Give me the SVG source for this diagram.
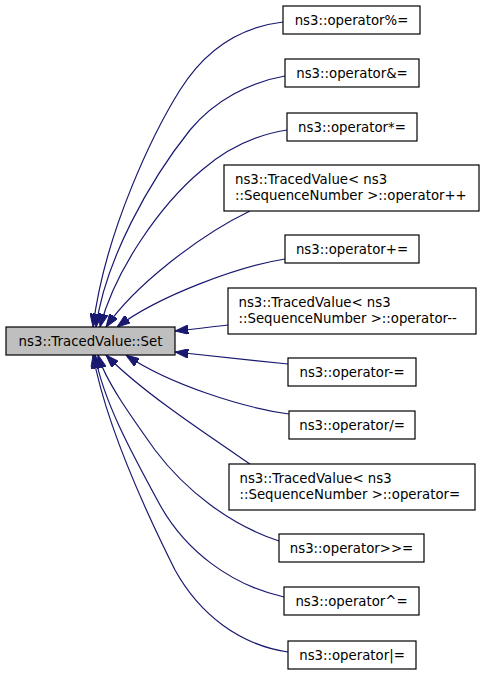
<svg xmlns="http://www.w3.org/2000/svg" width="485" height="675" viewBox="0 0 485 675">
<style>
.n rect{fill:#ffffff;stroke:#000000;stroke-width:1.2}
.m rect{fill:#bfbfbf;stroke:#000000;stroke-width:1.2}
text{font-family:"DejaVu Sans","Liberation Sans",sans-serif;font-size:13.3px;fill:#000000}
.c{text-anchor:middle}
.e path{fill:none;stroke:#191970;stroke-width:1.2}
</style>
<defs>
<marker id="ah" viewBox="0 0 13.3 9.4" refX="13.3" refY="4.7" markerWidth="13.3" markerHeight="9.4" orient="auto" markerUnits="userSpaceOnUse">
<path d="M0,0 L13.3,4.7 L0,9.4 z" fill="#191970" stroke="#191970" stroke-width="1"/>
</marker>
</defs>
<rect width="485" height="675" fill="#ffffff"/>
<g class="e" id="edges" marker-end="url(#ah)">
<path d="M283,22 C240,27 205,50 180,90 C155,130 105,230 93,327" marker-end="url(#ah)"/>
<path d="M285,76 C250,82 215,100 190,130 C150,180 105,260 96,327" marker-end="url(#ah)"/>
<path d="M287,130 C255,135 225,150 202,170 C160,205 115,270 100,327" marker-end="url(#ah)"/>
<path d="M250,211 C200,235 135,285 106,327" marker-end="url(#ah)"/>
<path d="M285,259 C240,266 160,295 117,327" marker-end="url(#ah)"/>
<path d="M228,325 C210,327 195,329 175,331" marker-end="url(#ah)"/>
<path d="M288,364 C250,360 210,356 175,352" marker-end="url(#ah)"/>
<path d="M289,414 C245,408 170,385 126,355" marker-end="url(#ah)"/>
<path d="M250,464 C200,430 140,390 106,355" marker-end="url(#ah)"/>
<path d="M279,541 C230,525 185,490 155,450 C130,415 105,380 98,355" marker-end="url(#ah)"/>
<path d="M284,597 C230,585 185,550 160,505 C130,450 103,400 95,355" marker-end="url(#ah)"/>
<path d="M288,652 C240,645 200,615 175,570 C140,500 105,420 93,355" marker-end="url(#ah)"/>
</g>
<g class="m" id="node_set"><rect x="6" y="327" width="169" height="28"/><text class="c" x="90.5" y="345.5">ns3::TracedValue::Set</text></g>
<g class="n" id="node_mod"><rect x="283" y="6" width="137" height="28"/><text class="c" x="351.5" y="24.5">ns3::operator%=</text></g>
<g class="n" id="node_and"><rect x="285" y="59" width="134" height="28"/><text class="c" x="352" y="77.5">ns3::operator&amp;=</text></g>
<g class="n" id="node_mul"><rect x="287" y="113" width="130" height="28"/><text class="c" x="352" y="131.5">ns3::operator*=</text></g>
<g class="n" id="node_inc"><rect x="224" y="165" width="255" height="46"/><text x="235" y="183.5">ns3::TracedValue&lt; ns3</text><text x="235" y="199.5">::SequenceNumber &gt;::operator++</text></g>
<g class="n" id="node_add"><rect x="285" y="235" width="134" height="28"/><text class="c" x="352" y="253.5">ns3::operator+=</text></g>
<g class="n" id="node_dec"><rect x="228" y="288" width="248" height="46"/><text x="238.5" y="306.5">ns3::TracedValue&lt; ns3</text><text x="238.5" y="322.5">::SequenceNumber &gt;::operator--</text></g>
<g class="n" id="node_sub"><rect x="288" y="358" width="128" height="28"/><text class="c" x="352" y="376.5">ns3::operator-=</text></g>
<g class="n" id="node_div"><rect x="289" y="411" width="126" height="28"/><text class="c" x="352" y="429.5">ns3::operator/=</text></g>
<g class="n" id="node_assign"><rect x="229" y="464" width="246" height="46"/><text x="239.5" y="482.5">ns3::TracedValue&lt; ns3</text><text x="239.5" y="498.5">::SequenceNumber &gt;::operator=</text></g>
<g class="n" id="node_shr"><rect x="279" y="534" width="145" height="28"/><text class="c" x="351.5" y="552.5">ns3::operator&gt;&gt;=</text></g>
<g class="n" id="node_xor"><rect x="284" y="587" width="135" height="28"/><text class="c" x="351.5" y="605.5">ns3::operator^=</text></g>
<g class="n" id="node_or"><rect x="288" y="641" width="128" height="28"/><text class="c" x="352" y="659.5">ns3::operator|=</text></g>
</svg>
